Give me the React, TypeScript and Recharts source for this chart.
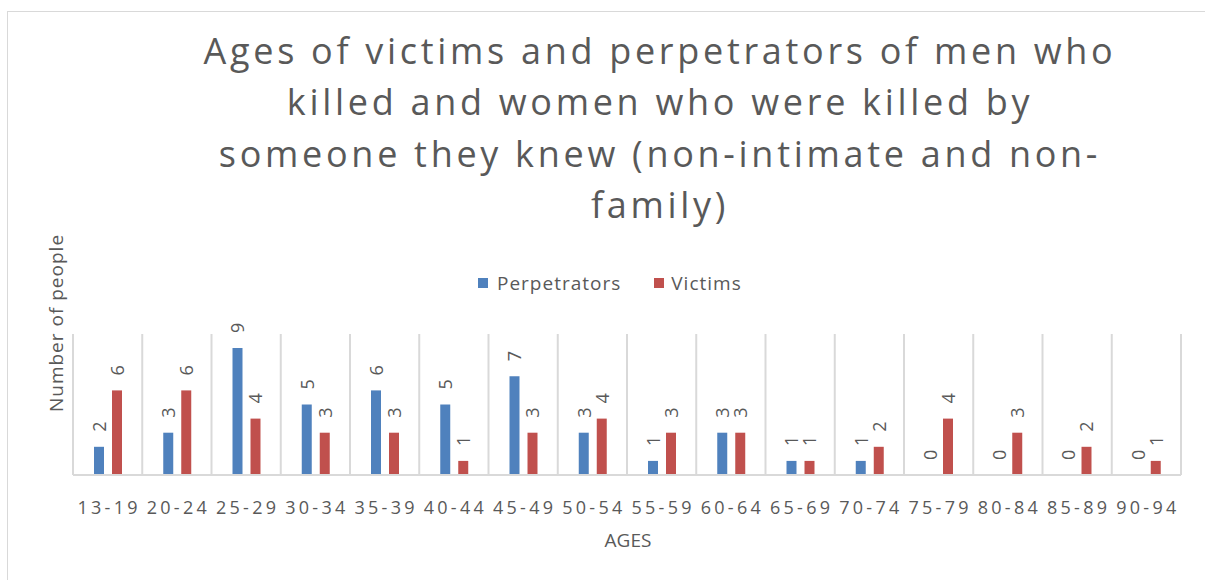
import React from "react"
import { BarChart, Bar, XAxis, YAxis, CartesianGrid, LabelList } from "recharts"

const ageGroups = [
  "13-19", "20-24", "25-29", "30-34", "35-39", "40-44", "45-49", "50-54",
  "55-59", "60-64", "65-69", "70-74", "75-79", "80-84", "85-89", "90-94",
]
const perpetrators = [2, 3, 9, 5, 6, 5, 7, 3, 1, 3, 1, 1, 0, 0, 0, 0]
const victims = [6, 6, 4, 3, 3, 1, 3, 4, 3, 3, 1, 2, 4, 3, 2, 1]

const titleLines = [
  "Ages of victims and perpetrators of men who",
  "killed and women who were killed by",
  "someone they knew (non-intimate and non-",
  "family)",
]

const data = ageGroups.map((age, i) => ({
  age,
  perpetrators: perpetrators[i],
  victims: victims[i],
}))

const BLUE = "#4F81BD"
const RED = "#C0504D"
const TEXT = "#595959"
const GRID = "#D9D9D9"
const FONT = "'Open Sans', sans-serif"

function RotatedLabel(props: any) {
  const { x, y, width, value } = props
  const cx = x + width / 2
  const ty = y - 15
  return (
    <text
      x={cx}
      y={ty}
      transform={`rotate(-90 ${cx} ${ty})`}
      textAnchor="start"
      dominantBaseline="central"
      fill={TEXT}
      fontSize={18}
      fontFamily={FONT}
    >
      {value}
    </text>
  )
}

function AgeTick(props: any) {
  const { x, y, payload } = props
  return (
    <text
      x={x + 1.5}
      y={y + 31}
      textAnchor="middle"
      fill={TEXT}
      fontSize={18}
      fontFamily={FONT}
      letterSpacing={3.3}
    >
      {payload.value}
    </text>
  )
}

export default function App() {
  return (
    <div
      style={{
        position: "fixed",
        left: 0,
        top: 0,
        width: 1205,
        height: 580,
        overflow: "hidden",
        background: "#fff",
        fontFamily: FONT,
      }}
    >
      <div
        style={{
          position: "absolute",
          left: 7,
          top: 11,
          width: 1240,
          height: 620,
          border: `1px solid ${GRID}`,
        }}
      />
      <div
        style={{
          position: "absolute",
          left: 160,
          width: 1000,
          top: 24.5,
          textAlign: "center",
          color: TEXT,
          fontSize: 36,
          lineHeight: "51.5px",
          letterSpacing: 3.7,
        }}
      >
        {titleLines.map((l) => (
          <div key={l}>{l}</div>
        ))}
      </div>
      <div
        style={{
          position: "absolute",
          left: 478,
          top: 270,
          display: "flex",
          alignItems: "center",
          color: TEXT,
          fontSize: 19,
          lineHeight: "26px",
          letterSpacing: 1,
        }}
      >
        <span style={{ width: 10, height: 10, background: BLUE, marginRight: 9 }} />
        <span style={{ marginRight: 33 }}>Perpetrators</span>
        <span style={{ width: 10, height: 10, background: RED, marginRight: 7 }} />
        <span>Victims</span>
      </div>
      <div
        style={{
          position: "absolute",
          left: 56,
          top: 323,
          transform: "translate(-50%, -50%) rotate(-90deg)",
          whiteSpace: "nowrap",
          color: TEXT,
          fontSize: 19,
          letterSpacing: 1,
        }}
      >
        Number of people
      </div>
      <div
        style={{
          position: "absolute",
          left: 628,
          top: 540,
          transform: "translate(-50%, -50%)",
          color: TEXT,
          fontSize: 19,
        }}
      >
        AGES
      </div>
      <div style={{ position: "absolute", left: 0, top: 0 }}>
        <BarChart
          width={1205}
          height={580}
          data={data}
          margin={{ top: 334, right: 24, left: 73, bottom: 0 }}
          barGap={8}
          barSize={10}
        >
          <CartesianGrid
            horizontal={false}
            stroke={GRID}
            strokeWidth={2}
            verticalCoordinatesGenerator={({ offset }: any) =>
              Array.from(
                { length: ageGroups.length + 1 },
                (_, i) => offset.left + (i * offset.width) / ageGroups.length
              )
            }
          />
          <XAxis
            dataKey="age"
            height={105}
            axisLine={{ stroke: GRID, strokeWidth: 2 }}
            tickLine={false}
            interval={0}
            tick={<AgeTick />}
          />
          <YAxis hide domain={[0, 10]} />
          <Bar
            dataKey="perpetrators"
            fill={BLUE}
            minPointSize={0.01}
            isAnimationActive={false}
          >
            <LabelList dataKey="perpetrators" content={<RotatedLabel />} />
          </Bar>
          <Bar
            dataKey="victims"
            fill={RED}
            minPointSize={0.01}
            isAnimationActive={false}
          >
            <LabelList dataKey="victims" content={<RotatedLabel />} />
          </Bar>
        </BarChart>
      </div>
    </div>
  )
}
